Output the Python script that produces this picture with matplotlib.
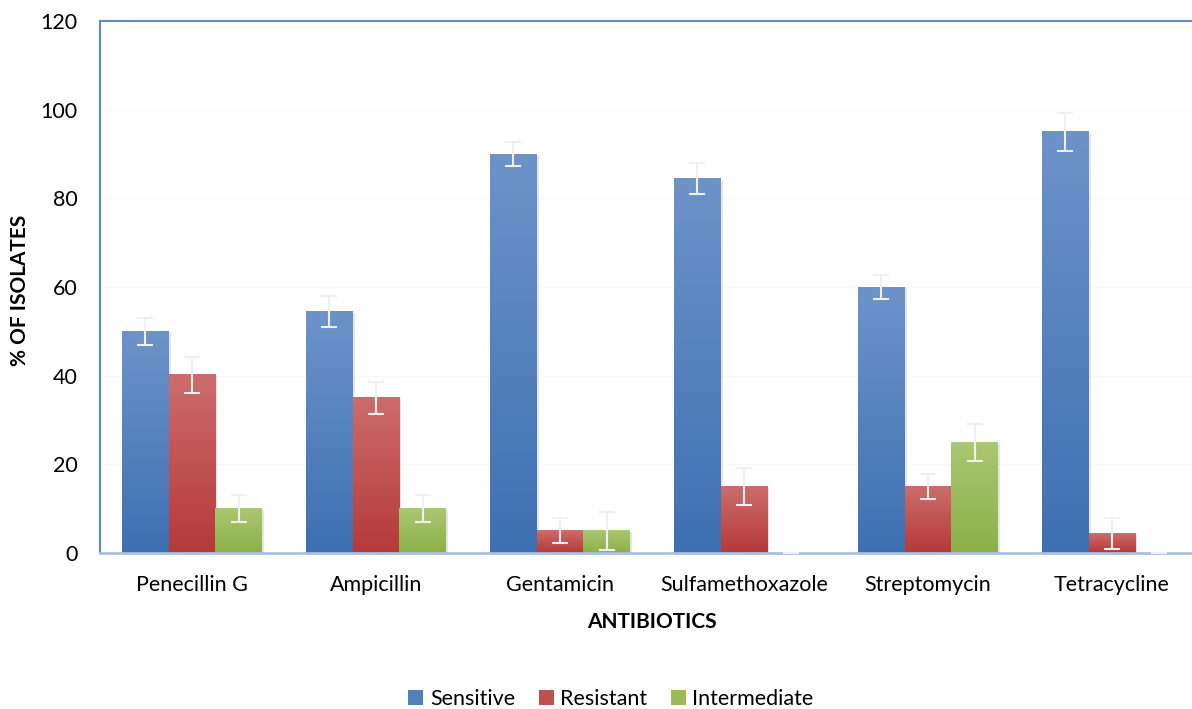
import numpy as np
import matplotlib
matplotlib.use("Agg")
import matplotlib.pyplot as plt
from matplotlib.colors import LinearSegmentedColormap
from matplotlib.patches import Patch

categories = ["Penecillin G", "Ampicillin", "Gentamicin", "Sulfamethoxazole", "Streptomycin", "Tetracycline"]
series_names = ["Sensitive", "Resistant", "Intermediate"]
sensitive = [50, 54.5, 90, 84.5, 60, 95]
resistant = [40.2, 35, 5, 15, 15, 4.5]
intermediate = [10, 10, 5, 0, 25, 0]
sensitive_err = [3, 3.5, 2.8, 3.5, 2.8, 4.3]
resistant_err = [4, 3.6, 2.8, 4.2, 2.8, 3.5]
intermediate_err = [3, 3, 4.3, 0, 4.2, 0]
yticks = [0, 20, 40, 60, 80, 100, 120]

values = [sensitive, resistant, intermediate]
errors = [sensitive_err, resistant_err, intermediate_err]
grad = [("#6d93c9", "#3d70b2"), ("#cc6d6b", "#b5393a"), ("#abc772", "#8bb048")]
solid = ["#4f81bd", "#c0504d", "#9bbb59"]

plt.rcParams['font.family'] = ['Lato', 'DejaVu Sans']
fig = plt.figure(figsize=(11.92, 7.09), dpi=100)
W, H = 1192, 709
left, top, bottom = 100, 21, 553
n = len(categories)
spacing = 184
ax = fig.add_axes([left / W, 1 - bottom / H, n * spacing / W, (bottom - top) / H])

x = np.arange(n)
bw = 0.253
offsets = [-bw, 0, bw]
ax.set_xlim(-0.5, n - 0.5)
ax.set_ylim(0, 120)

grad_img = np.linspace(1, 0, 256).reshape(-1, 1)
for s in range(3):
    cmap = LinearSegmentedColormap.from_list("g%d" % s, [grad[s][1], grad[s][0]])
    for i in range(n):
        v = values[s][i]
        xc = x[i] + offsets[s]
        if v > 0:
            ax.bar(xc + 0.012, v, width=bw, bottom=-0.3, color="#000000", alpha=0.10, zorder=1, linewidth=0)
            ax.imshow(grad_img, cmap=cmap, aspect="auto", vmin=0, vmax=1,
                      extent=(xc - bw / 2, xc + bw / 2, 0, v), zorder=2, interpolation="bilinear")
        ax.errorbar(xc, v, yerr=errors[s][i], fmt="none", ecolor="#f0f0f0", elinewidth=1.5,
                    capsize=6, capthick=1.5, zorder=4)

ax.set_xlim(-0.5, n - 0.5)
ax.set_ylim(0, 120)
ax.set_yticks(yticks)
ax.set_yticklabels([str(t) for t in yticks], fontsize=15.5, color="#000000")
ax.set_xticks(x)
ax.set_xticklabels(categories, fontsize=15.5)
ax.tick_params(axis="both", length=0)
ax.tick_params(axis="y", pad=16)
ax.tick_params(axis="x", pad=16)
for t in yticks[1:]:
    ax.axhline(t, color="#f8f8f8", linewidth=0.8, zorder=0)

for sp in ["left", "top", "right"]:
    ax.spines[sp].set_color("#5b8bcb")
    ax.spines[sp].set_linewidth(1.5)
ax.spines["bottom"].set_color("#a9c0e2")
ax.spines["bottom"].set_linewidth(2)

fig.text(20 / W, 1 - 290 / H, "% OF ISOLATES", rotation=90, ha="center", va="center",
         fontsize=15, fontweight="bold")
fig.text(652 / W, 1 - 622 / H, "ANTIBIOTICS", ha="center", va="center",
         fontsize=15, fontweight="bold")

handles = [Patch(facecolor=solid[s], edgecolor="none") for s in range(3)]
fig.legend(handles, series_names, loc="center", bbox_to_anchor=(611 / W, 1 - 699 / H), ncol=3,
           frameon=False, fontsize=15.5, handlelength=0.7, handleheight=0.7, handletextpad=0.3,
           columnspacing=1.1)

fig.savefig("out.png", dpi=100)
